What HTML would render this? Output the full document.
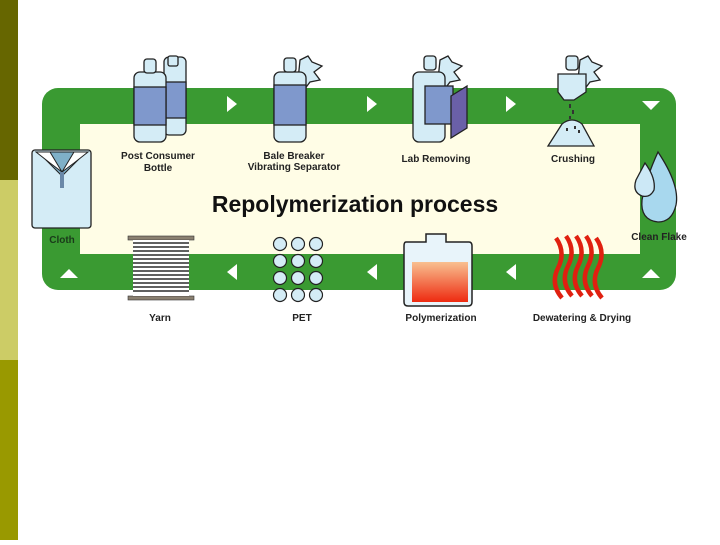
<!DOCTYPE html>
<html><head><style>
body{margin:0;width:720px;height:540px;background:#fff;overflow:hidden;font-family:"Liberation Sans",sans-serif}
</style></head><body>
<svg width="720" height="540" viewBox="0 0 720 540" xmlns="http://www.w3.org/2000/svg" font-family="Liberation Sans, sans-serif">
<rect x="0" y="0" width="18" height="180" fill="#666600"/>
<rect x="0" y="180" width="18" height="180" fill="#cccc66"/>
<rect x="0" y="360" width="18" height="180" fill="#999900"/>
<rect x="42" y="88" width="634" height="202" rx="16" fill="#3a9a32"/>
<rect x="80" y="124" width="560" height="130" fill="#fffde6"/>
<!-- arrows top -->
<g fill="#fff">
<polygon points="227,96 237,104 227,112"/>
<polygon points="367,96 377,104 367,112"/>
<polygon points="506,96 516,104 506,112"/>
<polygon points="642,101 660,101 651,110"/>
<polygon points="642,278 660,278 651,269"/>
<polygon points="60,278 78,278 69,269"/>
<polygon points="237,264 227,272 237,280"/>
<polygon points="377,264 367,272 377,280"/>
<polygon points="516,264 506,272 516,280"/>
</g>
<!-- bottles post consumer -->
<g stroke="#222" stroke-width="1.3">
<rect x="164" y="57" width="22" height="78" rx="5" fill="#d4ecf6"/>
<rect x="164" y="82" width="22" height="36" fill="#7f98cc"/>
<rect x="168" y="56" width="10" height="10" rx="2" fill="#d4ecf6"/>
<rect x="134" y="72" width="32" height="70" rx="6" fill="#d4ecf6"/>
<rect x="134" y="87" width="32" height="38" fill="#7f98cc"/>
<rect x="144" y="59" width="12" height="14" rx="3" fill="#d4ecf6"/>
<!-- bale breaker -->
<polygon points="300,60 308,56 312,62 322,66 314,72 320,80 310,82 304,90 298,80" fill="#d4ecf6"/>
<rect x="274" y="72" width="32" height="70" rx="6" fill="#d4ecf6"/>
<rect x="274" y="85" width="32" height="40" fill="#7f98cc"/>
<rect x="284" y="58" width="12" height="14" rx="3" fill="#d4ecf6"/>
<!-- lab removing -->
<polygon points="440,60 448,56 452,62 462,66 454,72 460,80 450,82 444,90 438,80" fill="#d4ecf6"/>
<rect x="413" y="72" width="32" height="70" rx="6" fill="#d4ecf6"/>
<rect x="424" y="56" width="12" height="14" rx="3" fill="#d4ecf6"/>
<rect x="425" y="86" width="28" height="38" fill="#7f98cc"/>
<polygon points="451,96 467,86 467,128 451,138" fill="#6a60a8"/>
<!-- crushing -->
<polygon points="580,60 588,56 592,62 602,66 594,72 600,80 590,82 584,90 578,80" fill="#d4ecf6"/>
<path d="M558,74 L586,74 L586,92 L574,100 L564,100 L558,92 Z" fill="#d4ecf6"/>
<rect x="566" y="56" width="12" height="14" rx="3" fill="#d4ecf6"/>
<path d="M548,146 L562,124 Q572,116 582,124 L594,146 Z" fill="#d4ecf6"/>
</g>
<g fill="#333"><rect x="569" y="104" width="2" height="4"/><rect x="572" y="110" width="2" height="4"/><rect x="569" y="116" width="2" height="3"/><rect x="566" y="128" width="2" height="3"/><rect x="574" y="126" width="2" height="3"/><rect x="578" y="130" width="2" height="3"/></g>
<!-- cloth -->
<rect x="32" y="150" width="59" height="78" rx="3" fill="#d4ecf6" stroke="#222" stroke-width="1.3"/>
<polygon points="38,152 86,152 62,176" fill="#7fb0c8" stroke="#222"/>
<polygon points="36,152 50,152 62,172 50,163" fill="#fff" stroke="#222"/>
<polygon points="88,152 74,152 62,172 74,163" fill="#fff" stroke="#222"/>
<rect x="60" y="172" width="4" height="16" fill="#6a88a8"/>
<!-- clean flake -->
<g stroke="#222" stroke-width="1.3">
<path d="M658,152 Q680,185 676,205 Q672,222 658,222 Q640,220 642,200 Q646,178 658,152Z" fill="#a8d8ee"/>
<path d="M645,163 Q656,178 654,190 Q650,198 642,196 Q632,192 636,180Z" fill="#cce8f6"/>
</g>
<!-- yarn -->
<rect x="128" y="236" width="66" height="4" fill="#8a8070" stroke="#333" stroke-width=".6"/>
<rect x="128" y="296" width="66" height="4" fill="#8a8070" stroke="#333" stroke-width=".6"/>
<rect x="133" y="240" width="56" height="56" fill="#fff"/>
<g stroke="#000" stroke-width="1.3">
<line x1="133" y1="243" x2="189" y2="243"/><line x1="133" y1="247" x2="189" y2="247"/><line x1="133" y1="251" x2="189" y2="251"/><line x1="133" y1="255" x2="189" y2="255"/><line x1="133" y1="259" x2="189" y2="259"/><line x1="133" y1="263" x2="189" y2="263"/><line x1="133" y1="267" x2="189" y2="267"/><line x1="133" y1="271" x2="189" y2="271"/><line x1="133" y1="275" x2="189" y2="275"/><line x1="133" y1="279" x2="189" y2="279"/><line x1="133" y1="283" x2="189" y2="283"/><line x1="133" y1="287" x2="189" y2="287"/><line x1="133" y1="291" x2="189" y2="291"/></g>
<!-- PET -->
<g fill="#d4ecf6" stroke="#222" stroke-width="1.2">
<circle cx="280" cy="244" r="6.5"/><circle cx="298" cy="244" r="6.5"/><circle cx="316" cy="244" r="6.5"/>
<circle cx="280" cy="261" r="6.5"/><circle cx="298" cy="261" r="6.5"/><circle cx="316" cy="261" r="6.5"/>
<circle cx="280" cy="278" r="6.5"/><circle cx="298" cy="278" r="6.5"/><circle cx="316" cy="278" r="6.5"/>
<circle cx="280" cy="295" r="6.5"/><circle cx="298" cy="295" r="6.5"/><circle cx="316" cy="295" r="6.5"/>
</g>
<!-- polymerization -->
<defs><linearGradient id="pg" x1="0" y1="0" x2="0" y2="1"><stop offset="0" stop-color="#f8c090"/><stop offset="1" stop-color="#ee2a10"/></linearGradient></defs>
<path d="M406,242 L426,242 L426,234 L446,234 L446,242 L469,242 Q472,242 472,246 L472,302 Q472,306 468,306 L408,306 Q404,306 404,302 L404,246 Q404,242 406,242Z" fill="#e8f4fa" stroke="#222" stroke-width="1.5"/>
<rect x="412" y="262" width="56" height="40" fill="url(#pg)"/>
<!-- dewatering -->
<g fill="none" stroke="#e02010" stroke-width="4.5">
<path d="M556,238 Q566,252 558,268 Q550,284 562,298"/>
<path d="M566,236 Q576,250 568,266 Q560,282 572,296"/>
<path d="M576,236 Q586,250 578,266 Q570,282 582,296"/>
<path d="M586,236 Q596,250 588,266 Q580,282 592,296"/>
<path d="M596,238 Q606,252 598,268 Q590,284 602,298"/>
</g>
<!-- labels -->
<g font-size="10" font-weight="bold" fill="#222" text-anchor="middle">
<text x="158" y="159">Post Consumer</text><text x="158" y="171">Bottle</text>
<text x="294" y="159">Bale Breaker</text><text x="294" y="170">Vibrating Separator</text>
<text x="436" y="162">Lab Removing</text>
<text x="573" y="162">Crushing</text>
<text x="62" y="243" fill="#1a3a1a">Cloth</text>
<text x="659" y="240">Clean Flake</text>
<text x="160" y="321">Yarn</text>
<text x="302" y="321">PET</text>
<text x="441" y="321">Polymerization</text>
<text x="582" y="321">Dewatering &amp; Drying</text>
</g>
<text x="355" y="212" font-size="23" font-weight="bold" text-anchor="middle" fill="#111">Repolymerization  process</text>
</svg>
</body></html>
